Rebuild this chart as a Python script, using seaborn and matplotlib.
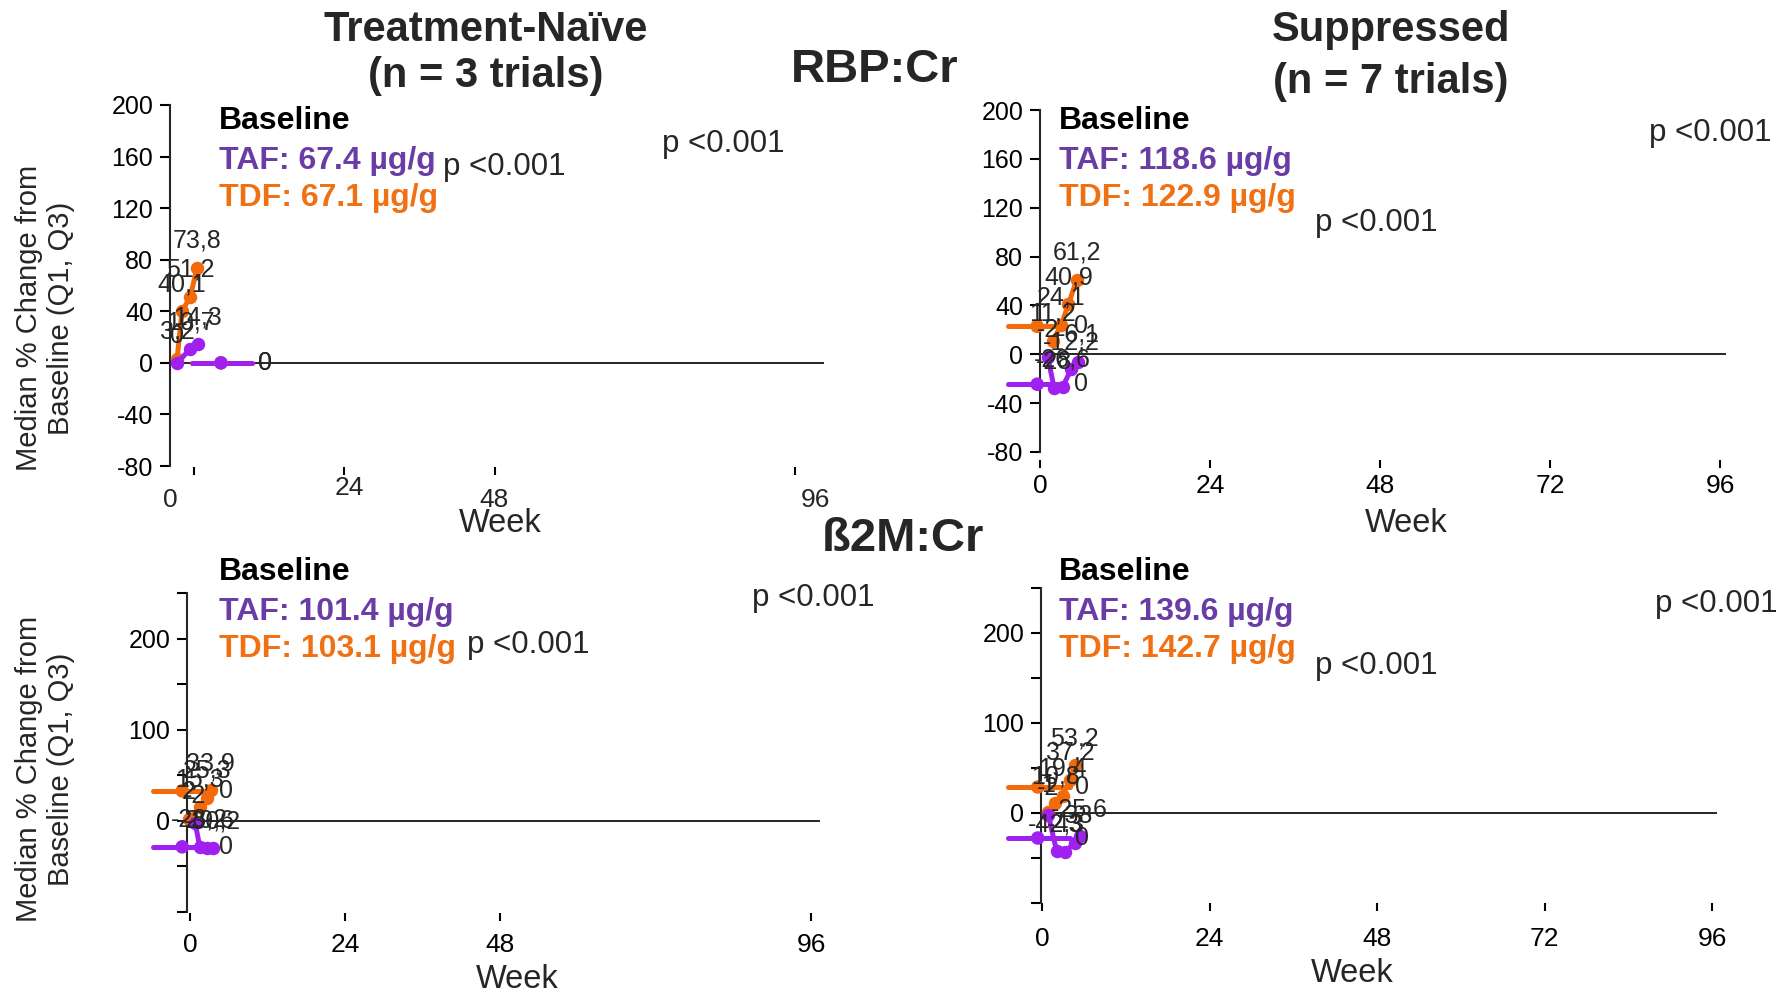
import matplotlib
matplotlib.use("Agg")
import matplotlib.pyplot as plt
import seaborn as sns
from matplotlib import font_manager

# ---------------- data ----------------
markers_names = ["RBP:Cr", "ß2M:Cr"]
group_titles = ["Treatment-Naïve\n(n = 3 trials)", "Suppressed\n(n = 7 trials)"]
taf_baseline = [67.4, 118.6, 101.4, 139.6]   # µg/g  (RBP naive, RBP supp, B2M naive, B2M supp)
tdf_baseline = [67.1, 122.9, 103.1, 142.7]
p_text = "p <0.001"

xticks_naive = [0, 24, 48, 96]
xticks_supp = [0, 24, 48, 72, 96]
yticks_rbp = [-80, -40, 0, 40, 80, 120, 160, 200]
yticks_b2m = [-100, -50, 0, 50, 100, 150, 200, 250]
ylabels_b2m = ["", "", "0", "", "100", "", "200", ""]

# RBP:Cr, treatment-naive
rbp_naive_tdf_week = [-2.7, -1.9, -0.6, 0.5]
rbp_naive_tdf_pct = [3.2, 40.1, 51.2, 73.8]
rbp_naive_taf_week = [-2.7, -0.6, 0.6]
rbp_naive_taf_pct = [0.0, 10.7, 14.3]
rbp_naive_bar_week = [4.3, -0.3, 9.3]          # point, Q1, Q3
rbp_naive_bar_tdf = 0.0
rbp_naive_bar_taf = 0.0

# RBP:Cr, suppressed
rbp_supp_tdf_week = [1.8, 3.0, 4.0, 5.2]
rbp_supp_tdf_pct = [11.2, 24.1, 40.9, 61.2]
rbp_supp_taf_week = [1.1, 2.0, 3.2, 4.4, 5.4]
rbp_supp_taf_pct = [-2.0, -28.0, -26.6, -12.2, -6.1]
rbp_supp_bar_week = [-0.4, -4.5, 3.7]
rbp_supp_bar_tdf = 22.9
rbp_supp_bar_taf = -24.5

# B2M:Cr, treatment-naive
b2m_naive_tdf_week = [-0.15, 1.5, 2.6, 3.2]
b2m_naive_tdf_pct = [2.0, 15.3, 25.3, 33.9]
b2m_naive_taf_week = [0.8, 1.5, 2.6, 3.5]
b2m_naive_taf_pct = [-2.0, -28.2, -29.6, -30.2]
b2m_naive_bar_week = [-1.2, -5.7, 2.2]
b2m_naive_bar_tdf = 32.9
b2m_naive_bar_taf = -28.5

# B2M:Cr, suppressed
b2m_supp_tdf_week = [0.9, 1.9, 3.0, 4.0, 4.7]
b2m_supp_tdf_pct = [1.0, 10.8, 19.4, 37.2, 53.2]
b2m_supp_taf_week = [0.9, 2.1, 3.3, 4.7, 5.4]
b2m_supp_taf_pct = [-2.0, -42.3, -43.0, -33.0, -25.6]
b2m_supp_bar_week = [-0.6, -4.9, 4.0]
b2m_supp_bar_tdf = 28.9
b2m_supp_bar_taf = -27.8

# ---------------- style ----------------
sns.set_style("ticks")
REG = ["Liberation Sans", "DejaVu Sans"]
plt.rcParams["font.family"] = REG
plt.rcParams["axes.unicode_minus"] = False

W, H = 1781, 992
PURPLE_LINE = "#A020F0"
ORANGE_LINE = "#F26A0A"
PURPLE_TXT = "#6A3DA6"
ORANGE_TXT = "#F07014"
XTICK_FS = 19
WEEK_FS = 23.5

fig = plt.figure(figsize=(W / 100, H / 100), dpi=100)


def fx(px):
    return px / W


def fy(py):
    return 1 - py / H


def fmt(v):
    s = f"{v:.1f}"
    if s.endswith(".0"):
        s = s[:-2]
    return s.replace(".", ",")


panels = [
    dict(rect=(170, 105, 824, 466), xlim=(-3.83, 100.6), ylim=(-80, 200),
         xticks=xticks_naive, yticks=yticks_rbp, ylabels=[str(v) for v in yticks_rbp],
         xout=1, xpad=6, manual_x=True,
         tdf=(rbp_naive_tdf_week, rbp_naive_tdf_pct), taf=(rbp_naive_taf_week, rbp_naive_taf_pct),
         bar=rbp_naive_bar_week, bar_tdf=rbp_naive_bar_tdf, bar_taf=rbp_naive_bar_taf),
    dict(rect=(1040, 110, 1726, 452), xlim=(0.14, 96.8), ylim=(-80, 200),
         xticks=xticks_supp, yticks=yticks_rbp, ylabels=[str(v) for v in yticks_rbp],
         xout=6, xpad=4, manual_x=False,
         tdf=(rbp_supp_tdf_week, rbp_supp_tdf_pct), taf=(rbp_supp_taf_week, rbp_supp_taf_pct),
         bar=rbp_supp_bar_week, bar_tdf=rbp_supp_bar_tdf, bar_taf=rbp_supp_bar_taf),
    dict(rect=(187, 593, 820, 912), xlim=(-0.46, 97.4), ylim=(-100, 250),
         xticks=xticks_naive, yticks=yticks_b2m, ylabels=ylabels_b2m,
         xout=1, xpad=8, manual_x=False,
         tdf=(b2m_naive_tdf_week, b2m_naive_tdf_pct), taf=(b2m_naive_taf_week, b2m_naive_taf_pct),
         bar=b2m_naive_bar_week, bar_tdf=b2m_naive_bar_tdf, bar_taf=b2m_naive_bar_taf),
    dict(rect=(1041, 588, 1717, 903), xlim=(-0.14, 96.7), ylim=(-100, 250),
         xticks=xticks_supp, yticks=yticks_b2m, ylabels=ylabels_b2m,
         xout=0, xpad=11, manual_x=False,
         tdf=(b2m_supp_tdf_week, b2m_supp_tdf_pct), taf=(b2m_supp_taf_week, b2m_supp_taf_pct),
         bar=b2m_supp_bar_week, bar_tdf=b2m_supp_bar_tdf, bar_taf=b2m_supp_bar_taf),
]

for i, p in enumerate(panels):
    l, t, r, b = p["rect"]
    ax = fig.add_axes([fx(l), fy(b), (r - l) / W, (b - t) / H])
    ax.set_xlim(*p["xlim"])
    ax.set_ylim(*p["ylim"])
    for s in ["top", "right"]:
        ax.spines[s].set_visible(False)
    ax.spines["bottom"].set_visible(False)
    ax.spines["bottom"].set_position(("outward", p["xout"]))
    ax.spines["left"].set_linewidth(1.5)
    ax.set_yticks(p["yticks"])
    ax.set_yticklabels(p["ylabels"])
    ax.set_xticks(p["xticks"])
    if p["manual_x"]:
        ax.set_xticklabels([""] * len(p["xticks"]))
    else:
        ax.set_xticklabels([str(v) for v in p["xticks"]])
    ax.tick_params(axis="y", length=7, width=1.5, pad=5, labelsize=18, colors="black")
    ax.tick_params(axis="x", length=6, width=1.5, pad=p["xpad"], labelsize=XTICK_FS,
                   colors="black")
    ax.set_xlabel("")
    ax.set_ylabel("")

    ax.axhline(0, color="black", lw=1.2, zorder=1)

    # Baseline point with horizontal Q1-Q3 bar
    wk, lo, hi = p["bar"]
    for col, val in [(ORANGE_LINE, p["bar_tdf"]), (PURPLE_LINE, p["bar_taf"])]:
        sns.lineplot(x=[lo, hi], y=[val, val], color=col, lw=3.6, estimator=None,
                     ax=ax, clip_on=False, zorder=3)
        sns.scatterplot(x=[wk], y=[val], color=col, s=95, edgecolor="none",
                        ax=ax, clip_on=False, zorder=4)
        ax.annotate("0", (wk, val), xytext=(31.7, 0), textcoords="offset points",
                    ha="center", va="center", fontsize=18, annotation_clip=False, zorder=6)

    # Lines
    for col, (wks, pcts) in [(ORANGE_LINE, p["tdf"]), (PURPLE_LINE, p["taf"])]:
        sns.lineplot(x=wks, y=pcts, color=col, lw=3.6, marker="o", markersize=9.7,
                     markeredgewidth=0, sort=False, estimator=None, ax=ax,
                     clip_on=False, zorder=4)
        for xw, yv in zip(wks, pcts):
            ax.annotate(fmt(yv), (xw, yv), xytext=(0, 19.4), textcoords="offset points",
                        ha="center", va="center", fontsize=18, annotation_clip=False,
                        zorder=6)

# manual (misaligned) tick labels of the first panel
for txt, (px, py) in zip([str(v) for v in xticks_naive],
                         [(170, 500), (349, 488), (494, 500), (815, 500)]):
    fig.text(fx(px), fy(py), txt, ha="center", va="center", fontsize=XTICK_FS)

# Week labels
for (px, py) in [(500, 524), (1406, 524), (517, 979), (1352, 973)]:
    fig.text(fx(px), fy(py), "Week", ha="center", va="center", fontsize=WEEK_FS)

# Y labels
for py in [318, 769]:
    fig.text(fx(45), fy(py), "Median % Change from\nBaseline (Q1, Q3)", rotation=90,
             ha="center", va="center", fontsize=21, multialignment="center",
             linespacing=1.15)

# Titles
fig.text(fx(486), fy(30), group_titles[0].split("\n")[0], ha="center", va="center",
         fontsize=30, fontweight="bold")
fig.text(fx(486), fy(76), group_titles[0].split("\n")[1], ha="center", va="center",
         fontsize=30, fontweight="bold")
fig.text(fx(1391), fy(30), group_titles[1].split("\n")[0], ha="center", va="center",
         fontsize=30, fontweight="bold")
fig.text(fx(1391), fy(82), group_titles[1].split("\n")[1], ha="center", va="center",
         fontsize=30, fontweight="bold")
fig.text(fx(875), fy(70), markers_names[0], ha="center", va="center",
         fontsize=34, fontweight="bold")
fig.text(fx(903), fy(539), markers_names[1], ha="center", va="center",
         fontsize=34, fontweight="bold")

# Baseline blocks
block_pos = [(219, 121, 161, 198), (1059, 121, 161, 198),
             (219, 572, 612, 649), (1059, 572, 612, 649)]
for k, (px, y0, y1, y2) in enumerate(block_pos):
    fig.text(fx(px), fy(y0), "Baseline", ha="left", va="center", fontsize=23,
             fontweight="bold", color="black")
    fig.text(fx(px), fy(y1), f"TAF: {taf_baseline[k]} µg/g", ha="left", va="center",
             fontsize=23, fontweight="bold", color=PURPLE_TXT)
    fig.text(fx(px), fy(y2), f"TDF: {tdf_baseline[k]} µg/g", ha="left", va="center",
             fontsize=23, fontweight="bold", color=ORANGE_TXT)

# p-values
for (px, py) in [(443, 167), (662, 144), (1649, 133), (1315, 223),
                 (752, 598), (467, 645), (1655, 604), (1315, 666)]:
    fig.text(fx(px), fy(py), p_text, ha="left", va="center", fontsize=22.5)

fig.savefig("out.png", dpi=100)
